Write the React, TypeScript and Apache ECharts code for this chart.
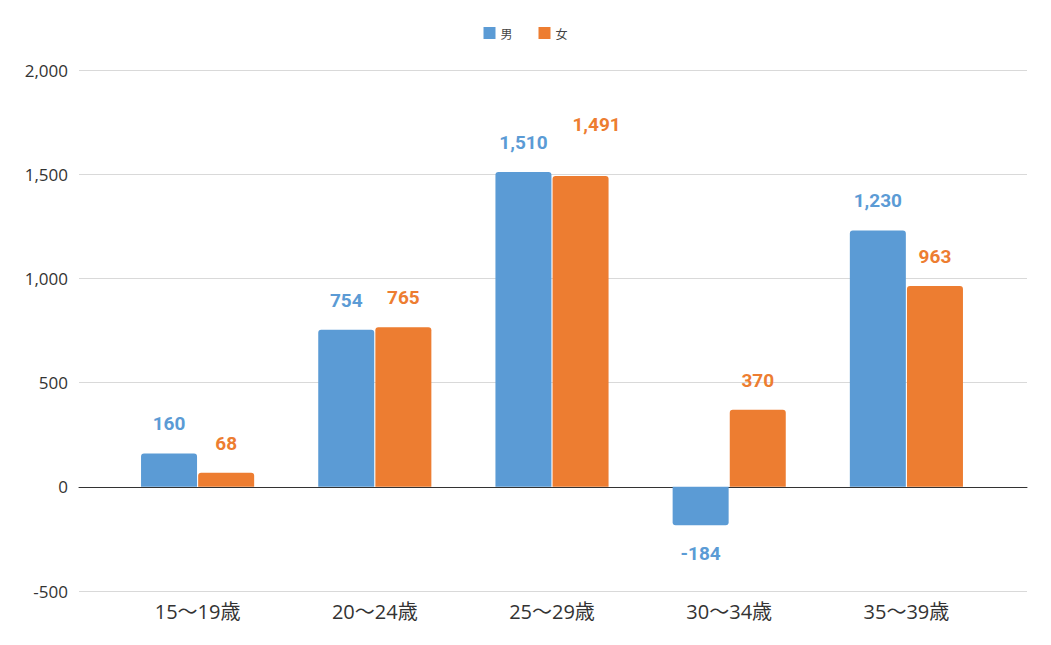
import * as echarts from "echarts";
import { useEffect, useRef } from "react";

const categories = ["15～19歳", "20～24歳", "25～29歳", "30～34歳", "35～39歳"];
const maleValues = [160, 754, 1510, -184, 1230];
const femaleValues = [68, 765, 1491, 370, 963];
const seriesNames = ["男", "女"];
const colors = ["#5B9BD5", "#ED7D31"];

const labelFont = "Roboto, 'Noto Sans CJK JP', sans-serif";
const axisFont = "'Open Sans', 'Noto Sans CJK JP', sans-serif";

// build bar data items, putting negative labels underneath the bar
const toItems = (values: number[], raised: number[] = []) =>
  values.map((v, i) =>
    v < 0
      ? {
          value: v,
          itemStyle: { borderRadius: [0, 0, 3, 3] },
          label: { position: "bottom", distance: 19 },
        }
      : raised.includes(i)
      ? { value: v, label: { distance: 38, offset: [16, -4] } }
      : v
  );

const App = () => {
  const chartRef = useRef<HTMLDivElement | null>(null);

  useEffect(() => {
    const chart = echarts.init(chartRef.current!, undefined, { renderer: "svg" });

    const option = {
      animation: false,
      legend: {
        data: seriesNames,
        top: 22,
        left: "center",
        itemWidth: 12,
        itemHeight: 12,
        itemGap: 26,
        icon: "rect",
        textStyle: { fontSize: 12, color: "#444", fontFamily: "'Noto Sans CJK JP', sans-serif" },
      },
      grid: [
        { left: 79, right: 24, top: 70, bottom: 54 },
        { left: 109, right: 56, top: 70, bottom: 54 },
      ],
      xAxis: [
        {
          gridIndex: 0,
          type: "value",
          min: 0,
          max: 1,
          axisLabel: { show: false },
          axisTick: { show: false },
          splitLine: { show: false },
          axisLine: { show: true, onZero: true, lineStyle: { color: "#333", width: 1 } },
        },
        {
          gridIndex: 1,
          type: "category",
          data: categories,
          axisLine: { show: false },
          axisTick: { show: false },
          axisLabel: { fontSize: 20, color: "#333", margin: 10, fontFamily: axisFont },
        },
      ],
      yAxis: [
        {
          gridIndex: 0,
          type: "value",
          min: -500,
          max: 2000,
          interval: 500,
          axisLine: { show: false },
          axisTick: { show: false },
          axisLabel: { fontSize: 17, color: "#333", margin: 11, fontFamily: axisFont },
          splitLine: { lineStyle: { color: "#d9d9d9" } },
        },
        {
          gridIndex: 1,
          type: "value",
          min: -500,
          max: 2000,
          interval: 500,
          show: false,
          splitLine: { show: false },
        },
      ],
      series: [
        {
          name: seriesNames[0],
          type: "bar",
          xAxisIndex: 1,
          yAxisIndex: 1,
          barWidth: 56,
          barGap: "2%",
          data: toItems(maleValues),
          itemStyle: { color: colors[0], borderRadius: [3, 3, 0, 0] },
          label: {
            show: true,
            position: "top",
            distance: 20,
            color: colors[0],
            fontSize: 19,
            fontWeight: "bold",
            fontFamily: labelFont,
            formatter: (p: any) => p.value.toLocaleString("en-US"),
          },
        },
        {
          name: seriesNames[1],
          type: "bar",
          xAxisIndex: 1,
          yAxisIndex: 1,
          barWidth: 56,
          barGap: "2%",
          data: toItems(femaleValues, [2]),
          itemStyle: { color: colors[1], borderRadius: [3, 3, 0, 0] },
          label: {
            show: true,
            position: "top",
            distance: 20,
            color: colors[1],
            fontSize: 19,
            fontWeight: "bold",
            fontFamily: labelFont,
            formatter: (p: any) => p.value.toLocaleString("en-US"),
          },
        },
      ],
    };

    chart.setOption(option);

    return () => {
      chart.dispose();
    };
  }, []);

  return <div ref={chartRef} style={{ width: "1051px", height: "645px", margin: "-8px" }} />;
};

export default App;
